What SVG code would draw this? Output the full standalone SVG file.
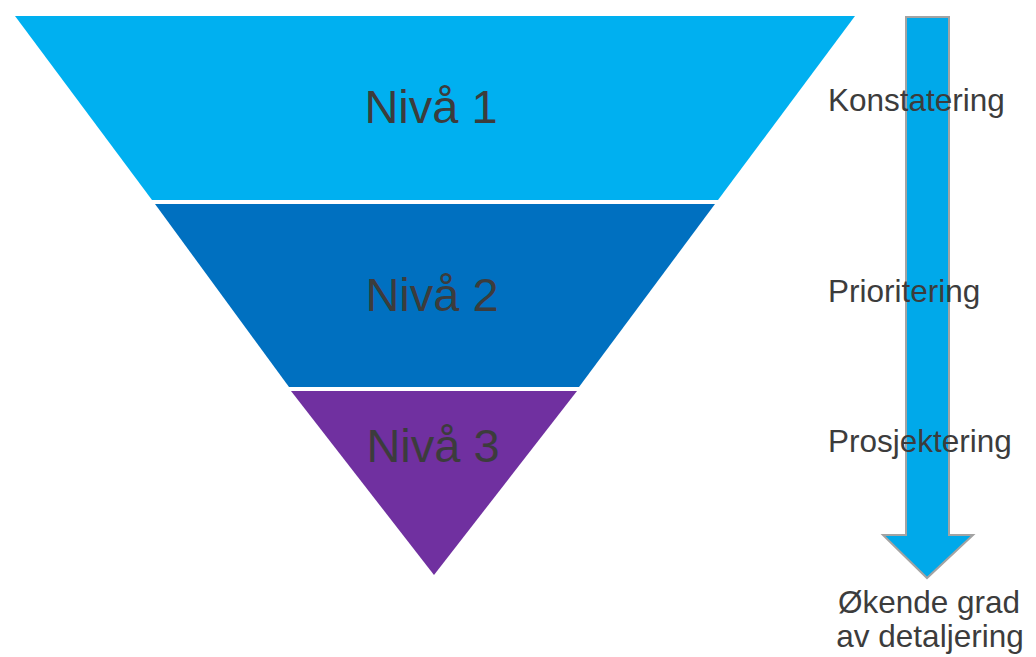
<svg xmlns="http://www.w3.org/2000/svg" width="1036" height="657" viewBox="0 0 1036 657">
<style>
.lvl{font-family:"Liberation Sans",Arial,sans-serif;font-size:47px;fill:#3c3c3c;text-anchor:middle}
.lbl{font-family:"Liberation Sans",Arial,sans-serif;font-size:31.5px;fill:#3c3c3c}
.cap{font-family:"Liberation Sans",Arial,sans-serif;font-size:31.5px;fill:#3c3c3c;text-anchor:middle}
</style>
<rect width="1036" height="657" fill="#ffffff"/>
<g id="connectors">
<path d="M906,17 L949,17 L949,535 L973,535 L927,578 L883,535 L906,535 Z" fill="#00A9EA" stroke="#A3A3A3" stroke-width="2" stroke-linejoin="miter"/>
</g>
<g id="niva1">
<polygon points="15,16 855,16 718,200 152,200" fill="#00B0F0"/>
<text class="lvl" x="431" y="123">Nivå 1</text>
</g>
<g id="niva2">
<polygon points="155,204 715,204 579,387 289,387" fill="#0070C0"/>
<text class="lvl" x="432" y="311">Nivå 2</text>
</g>
<g id="niva3">
<polygon points="291,391 577,391 434,575" fill="#7030A0"/>
<text class="lvl" x="433" y="462">Nivå 3</text>
</g>
<g id="labels">
<text class="lbl" x="828" y="111">Konstatering</text>
<text class="lbl" x="828" y="302">Prioritering</text>
<text class="lbl" x="828" y="452">Prosjektering</text>
<text class="cap" x="929" y="613">Økende grad</text>
<text class="cap" x="930" y="647">av detaljering</text>
</g>
</svg>
